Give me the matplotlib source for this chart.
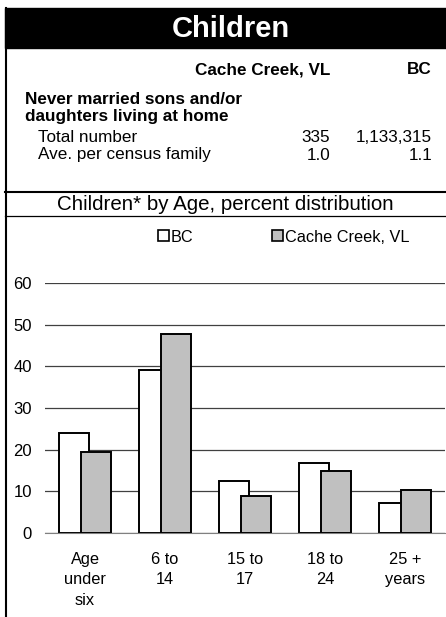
from matplotlib import pyplot as plt
from matplotlib.patches import Patch
from matplotlib.lines import Line2D
import numpy as np

plt.rcParams['font.family'] = ['Liberation Sans', 'DejaVu Sans']

# data
categories = ['Age\nunder\nsix', '6 to\n14', '15 to\n17', '18 to\n24', '25 +\nyears']
bc_values = [24.1, 39.1, 12.4, 16.7, 7.3]
cc_values = [19.4, 47.7, 8.9, 14.9, 10.3]
series_names = ['BC', 'Cache Creek, VL']
table_rows = ['Total number', 'Ave. per census family']
table_cc = ['335', '1.0']
table_bc = ['1,133,315', '1.1']

W, H = 446, 617
fig = plt.figure(figsize=(W / 100, H / 100), dpi=100)


def fx(px):
    return px / W


def fy(py):
    return 1 - py / H


# title bar
fig.patches.append(plt.Rectangle((fx(5), fy(48)), fx(441), fy(8) - fy(48),
                                 transform=fig.transFigure, color='black', zorder=0))
fig.text(fx(231), fy(29), 'Children', color='white', fontsize=21, fontweight='bold',
         ha='center', va='center')

# frame lines
fig.add_artist(Line2D([fx(6), fx(6)], [fy(8), 0], transform=fig.transFigure, color='black', lw=1.5))
fig.add_artist(Line2D([fx(5), 1], [fy(192), fy(192)], transform=fig.transFigure, color='black', lw=1.5))
fig.add_artist(Line2D([fx(5), 1], [fy(216), fy(216)], transform=fig.transFigure, color='black', lw=0.9))

# table text
fs = 12.3
fig.text(fx(330), fy(70), 'Cache Creek, VL', fontsize=fs, fontweight='bold', ha='right', va='center')
fig.text(fx(432), fy(70), 'BC', fontsize=fs, fontweight='bold', ha='right', va='center')
fig.text(fx(25), fy(100), 'Never married sons and/or', fontsize=fs, fontweight='bold', va='center')
fig.text(fx(25), fy(117), 'daughters living at home', fontsize=fs, fontweight='bold', va='center')
for i, lab in enumerate(table_rows):
    y = fy(137 + i * 18)
    fig.text(fx(38), y, lab, fontsize=fs, va='center')
    fig.text(fx(330), y, table_cc[i], fontsize=fs, ha='right', va='center')
    fig.text(fx(432), y, table_bc[i], fontsize=fs, ha='right', va='center')

fig.text(fx(225), fy(205), 'Children* by Age, percent distribution', fontsize=14.8,
         ha='center', va='center')

# chart
ax = fig.add_axes([fx(45), fy(533), fx(400), fy(283) - fy(533)])
x = np.arange(len(categories))
w = 0.375
ax.bar(x - 0.1375, bc_values, w, color='white', edgecolor='black', linewidth=1.4, zorder=2)
ax.bar(x + 0.1375, cc_values, w, color='#c0c0c0', edgecolor='black', linewidth=1.4, zorder=3)
ax.set_xlim(-0.5, 4.5)
ax.set_ylim(0, 60)
ax.set_yticks(range(0, 61, 10))
ax.set_xticks(x)
ax.set_xticklabels(categories, fontsize=11.8, linespacing=1.45)
ax.tick_params(axis='y', labelsize=12, length=0, pad=9.4)
ax.tick_params(axis='x', length=0, pad=13.5)
ax.grid(axis='y', color='#404040', linewidth=0.9, zorder=0)
ax.set_axisbelow(True)
for s in ['left', 'right', 'top']:
    ax.spines[s].set_visible(False)
ax.spines['bottom'].set_color('#808080')

handles = [Patch(facecolor='white', edgecolor='black', linewidth=1.2),
           Patch(facecolor='#c0c0c0', edgecolor='black', linewidth=1.2)]
fig.legend(handles, series_names, loc='center left', bbox_to_anchor=(fx(158), fy(237)),
           ncol=2, frameon=False, fontsize=11.7, handlelength=0.68, handleheight=0.68,
           handletextpad=0.12, columnspacing=4.85, borderpad=0, borderaxespad=0)

fig.savefig('out.png', dpi=100)
